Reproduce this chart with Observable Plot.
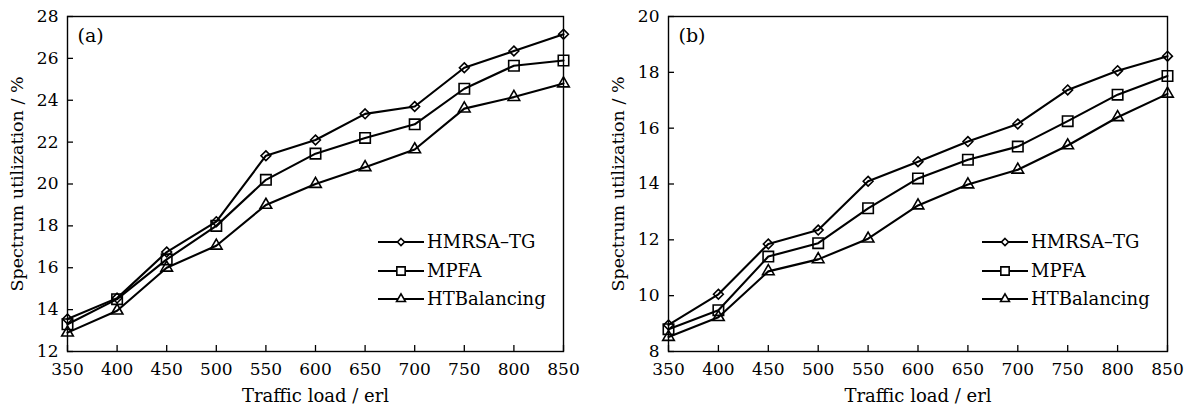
<!DOCTYPE html>
<html>
<head>
<meta charset="utf-8">
<script src="https://cdn.jsdelivr.net/npm/d3@7"></script>
<script src="https://cdn.jsdelivr.net/npm/@observablehq/plot@0.6"></script>
<style>
  html, body { margin: 0; padding: 0; background: #fff; }
  #wrap { display: flex; width: 1199px; height: 409px; }
  #wrap svg { overflow: visible; }
</style>
</head>
<body>
<div id="wrap"></div>
<script>
// ---- data ----
const loads = [350, 400, 450, 500, 550, 600, 650, 700, 750, 800, 850];
const seriesNames = ["HMRSA\u2013TG", "MPFA", "HTBalancing"];

// panel (a)
const aHMRSA = [13.55, 14.55, 16.75, 18.2, 21.35, 22.1, 23.35, 23.7, 25.55, 26.35, 27.15];
const aMPFA  = [13.3, 14.5, 16.4, 18.0, 20.2, 21.45, 22.2, 22.85, 24.55, 25.65, 25.9];
const aHTB   = [12.9, 13.95, 16.0, 17.05, 19.0, 20.0, 20.8, 21.65, 23.6, 24.15, 24.8];

// panel (b)
const bHMRSA = [8.95, 10.05, 11.85, 12.35, 14.1, 14.8, 15.52, 16.15, 17.37, 18.06, 18.58];
const bMPFA  = [8.8, 9.48, 11.4, 11.88, 13.13, 14.2, 14.87, 15.34, 16.25, 17.2, 17.87];
const bHTB   = [8.52, 9.23, 10.87, 11.3, 12.04, 13.23, 13.98, 14.51, 15.38, 16.39, 17.23];

const xTicks = [350, 400, 450, 500, 550, 600, 650, 700, 750, 800, 850];
const yTicksA = [12, 14, 16, 18, 20, 22, 24, 26, 28];
const yTicksB = [8, 10, 12, 14, 16, 18, 20];

const xTitle = "Traffic load / erl";
const yTitle = "Spectrum utilization / %";

const symbols = ["diamond2", "square", "triangle"];
const radii = [4.4, 5.9, 4.3];
const legendRadii = [3.2, 4.7, 3.3];

const FONT = "'DejaVu Serif', 'Liberation Serif', serif";

function makeTable(series) {
  const rows = [];
  series.forEach((vals, s) => {
    vals.forEach((v, i) => rows.push({load: loads[i], value: v, series: seriesNames[s]}));
  });
  return rows;
}

function panel({series, yDomain, yTicks, tag, width, marginLeft, marginRight}) {
  const data = makeTable(series);
  const marks = [
    Plot.frame({stroke: "#000", strokeWidth: 1.4}),
    // inward ticks
    Plot.axisX({ticks: xTicks, tickSize: -6, text: null, label: null, stroke: "#000", strokeWidth: 1.3}),
    Plot.axisY({ticks: yTicks, tickSize: -6, text: null, label: null, stroke: "#000", strokeWidth: 1.3}),
    // tick labels
    Plot.axisX({ticks: xTicks, tickSize: 0, tickPadding: 11, fontSize: 17, fill: "#000", label: null}),
    Plot.axisY({ticks: yTicks, tickSize: 0, tickPadding: 9, fontSize: 17, fill: "#000", label: null}),
    // axis titles
    Plot.text([xTitle], {frameAnchor: "bottom", dy: 50, lineAnchor: "bottom", textAnchor: "middle",
      text: d => d, fontSize: 18, fill: "#000"}),
    Plot.text([yTitle], {frameAnchor: "left", dx: -57, rotate: -90, lineAnchor: "top", textAnchor: "middle",
      text: d => d, fontSize: 17.5, fill: "#000"}),
  ];
  seriesNames.forEach((name, s) => {
    const rows = data.filter(d => d.series === name);
    marks.push(Plot.line(rows, {x: "load", y: "value", stroke: "#000", strokeWidth: 2.1}));
    marks.push(Plot.dot(rows, {x: "load", y: "value", symbol: () => symbols[s], r: radii[s],
      stroke: "#000", strokeWidth: 1.6, fill: "none"}));
  });
  // panel tag
  marks.push(Plot.text([tag], {frameAnchor: "top-left", dx: 10, dy: 12, text: d => d,
    fontSize: 19, fill: "#000", lineAnchor: "top", textAnchor: "start"}));

  const svg = Plot.plot({
    width, height: 409,
    marginLeft, marginRight, marginTop: 16, marginBottom: 58,
    style: {fontFamily: FONT, fontSize: "17px", color: "#000", background: "#fff"},
    x: {domain: [350, 850]},
    y: {domain: yDomain},
    symbol: {type: "identity"},
    marks
  });

  // legend inside the frame (pixel layout, not data)
  const frameRight = width - marginRight;
  const lx0 = frameRight - 185, lx1 = lx0 + 46, lmx = lx0 + 23;
  const rowsY = [242, 271, 299];
  const d3sym = [d3.symbolDiamond2, d3.symbolSquare, d3.symbolTriangle];
  const g = d3.select(svg).append("g").attr("class", "legend");
  seriesNames.forEach((name, s) => {
    const y = rowsY[s];
    g.append("line").attr("x1", lx0).attr("x2", lx1).attr("y1", y).attr("y2", y)
      .attr("stroke", "#000").attr("stroke-width", 2.1);
    g.append("path").attr("transform", `translate(${lmx},${y})`)
      .attr("d", d3.symbol(d3sym[s], Math.PI * legendRadii[s] ** 2)())
      .attr("fill", "#fff").attr("stroke", "#000").attr("stroke-width", 1.6);
    g.append("text").attr("x", lx1 + 3).attr("y", y).attr("dy", "0.36em")
      .attr("text-anchor", "start")
      .attr("font-family", FONT).attr("font-size", 18).attr("fill", "#000").text(name);
  });
  return svg;
}

const wrap = document.getElementById("wrap");
wrap.appendChild(panel({series: [aHMRSA, aMPFA, aHTB], yDomain: [12, 28], yTicks: yTicksA, tag: "(a)",
  width: 600, marginLeft: 67, marginRight: 37}));
wrap.appendChild(panel({series: [bHMRSA, bMPFA, bHTB], yDomain: [8, 20], yTicks: yTicksB, tag: "(b)",
  width: 599, marginLeft: 68, marginRight: 32}));
</script>
</body>
</html>
